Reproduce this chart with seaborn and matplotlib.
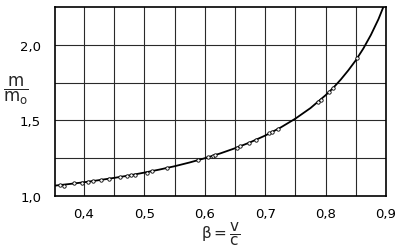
import matplotlib
matplotlib.use("Agg")
import matplotlib.pyplot as plt
import seaborn as sns
import pandas as pd

# theoretical curve
curve_beta = [0.35, 0.375, 0.40, 0.425, 0.45, 0.475, 0.50, 0.525, 0.55, 0.575,
              0.60, 0.625, 0.65, 0.675, 0.70, 0.725, 0.75, 0.775, 0.80, 0.8125,
              0.825, 0.8375, 0.85, 0.8625, 0.875, 0.8875, 0.90]
curve_m = [1.068, 1.079, 1.091, 1.105, 1.120, 1.136, 1.155, 1.175, 1.197, 1.222,
           1.250, 1.281, 1.316, 1.355, 1.400, 1.452, 1.512, 1.582, 1.667, 1.715,
           1.770, 1.831, 1.898, 1.976, 2.066, 2.170, 2.294]

# measured points
pt_beta = [0.360, 0.367, 0.383, 0.397, 0.407, 0.415, 0.428, 0.442, 0.460, 0.472,
           0.478, 0.485, 0.505, 0.513, 0.537, 0.588, 0.605, 0.613, 0.617, 0.653,
           0.658, 0.673, 0.685, 0.707, 0.712, 0.722, 0.787, 0.792, 0.805, 0.813,
           0.852]
pt_m = [1.072, 1.068, 1.083, 1.089, 1.095, 1.097, 1.106, 1.115, 1.124, 1.134,
        1.139, 1.141, 1.150, 1.163, 1.185, 1.236, 1.256, 1.266, 1.271, 1.320,
        1.328, 1.352, 1.373, 1.414, 1.424, 1.445, 1.621, 1.638, 1.686, 1.717,
        1.910]

x_ticks = [0.4, 0.5, 0.6, 0.7, 0.8, 0.9]
x_labels = ["0,4", "0,5", "0,6", "0,7", "0,8", "0,9"]
y_ticks = [1.0, 1.5, 2.0]
y_labels = ["1,0", "1,5", "2,0"]
x_grid = [0.40, 0.45, 0.50, 0.55, 0.60, 0.65, 0.70, 0.75, 0.80, 0.85]
y_grid = [1.25, 1.5, 1.75, 2.0]

sns.set_style("white")
plt.rcParams['font.family'] = ['DejaVu Sans']
plt.rcParams['mathtext.default'] = 'regular'

fig = plt.figure(figsize=(4.0, 2.53), dpi=100)
ax = fig.add_axes([0.1375, 0.2213, 0.8275, 0.7467])

for xv in x_grid:
    ax.axvline(xv, color="#2a2a2a", lw=0.8, zorder=1)
for yv in y_grid:
    ax.axhline(yv, color="#2a2a2a", lw=0.8, zorder=1)

cdf = pd.DataFrame({"beta": curve_beta, "m": curve_m})
pdf = pd.DataFrame({"beta": pt_beta, "m": pt_m})
sns.lineplot(data=cdf, x="beta", y="m", ax=ax, color="black", lw=1.3, zorder=3)
sns.scatterplot(data=pdf, x="beta", y="m", ax=ax, marker="o", s=6,
                facecolor="white", edgecolor="black", linewidth=0.6, zorder=4)

ax.set_xlim(0.352, 0.9)
ax.set_ylim(1.0, 2.25)
ax.set_xticks(x_ticks)
ax.set_xticklabels(x_labels)
ax.set_yticks(y_ticks)
ax.set_yticklabels(y_labels)
ax.tick_params(axis="both", length=0, labelsize=9.5, colors="black")
ax.tick_params(axis="y", pad=10)
ax.tick_params(axis="x", pad=8)
for s in ax.spines.values():
    s.set_color("black")
    s.set_linewidth(1.2)

ax.set_xlabel(r"$\beta = \dfrac{v}{c}$", fontsize=11, labelpad=0)
ax.set_ylabel(r"$\dfrac{m}{m_o}$", fontsize=12, rotation=0, va="center", ha="center")
ax.yaxis.set_label_coords(-0.118, 0.56)

fig.savefig("out.png", dpi=100)
